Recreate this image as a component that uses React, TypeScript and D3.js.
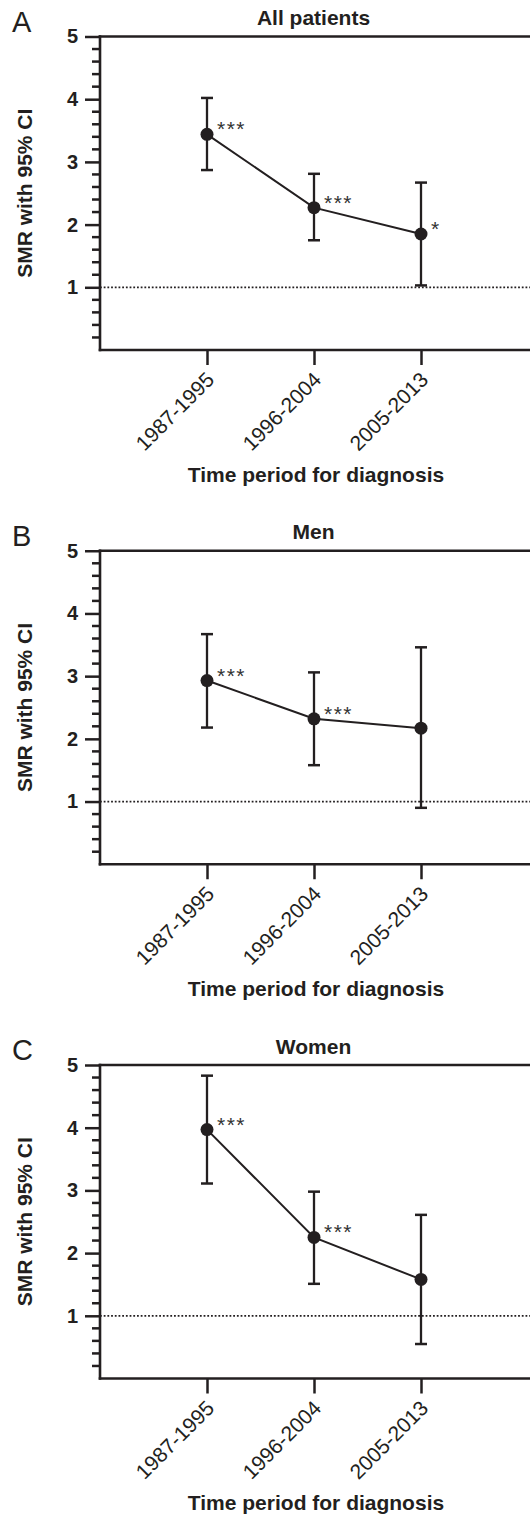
import React, { useEffect, useRef } from 'react';
import * as d3 from 'd3';

const categories = ['1987-1995', '1996-2004', '2005-2013'];
const panelLetters = ['A', 'B', 'C'];
const panelTitles = ['All patients', 'Men', 'Women'];

// SMR point estimates and 95% CI, one array per panel
const smrAll = [3.44, 2.27, 1.85];
const lowAll = [2.87, 1.75, 1.03];
const highAll = [4.02, 2.81, 2.67];
const starsAll = ['***', '***', '*'];

const smrMen = [2.93, 2.32, 2.17];
const lowMen = [2.18, 1.58, 0.9];
const highMen = [3.67, 3.06, 3.46];
const starsMen = ['***', '***', ''];

const smrWomen = [3.97, 2.25, 1.58];
const lowWomen = [3.11, 1.51, 0.55];
const highWomen = [4.83, 2.98, 2.61];
const starsWomen = ['***', '***', ''];

const yTicks = [1, 2, 3, 4, 5];
const yMax = 5;
const refLine = 1;

const panels = [
  { smr: smrAll, low: lowAll, high: highAll, stars: starsAll },
  { smr: smrMen, low: lowMen, high: highMen, stars: starsMen },
  { smr: smrWomen, low: lowWomen, high: highWomen, stars: starsWomen },
];

const W = 530;
const H = 1520;
const ink = '#231f20';
const font = 'Arial, "Liberation Sans", Helvetica, sans-serif';

const App = () => {
  const svgRef = useRef(null);

  useEffect(() => {
    const svg = d3.select(svgRef.current);
    svg.selectAll('*').remove();

    const left = 100;
    const plotH = 313.5;
    const firstTop = 36.5;
    const panelStep = 514.25;

    const x = d3.scalePoint()
      .domain(categories)
      .range([left, 528])
      .padding(1);

    const minorTicks = d3.range(1, yMax * 5)
      .filter(i => i % 5 !== 0)
      .map(i => i / 5);

    panels.forEach((p, pi) => {
      const top = firstTop + pi * panelStep;
      const bottom = top + plotH;
      const y = d3.scaleLinear().domain([0, yMax]).range([bottom, top]);
      const g = svg.append('g');

      // reference line at SMR = 1
      g.append('line')
        .attr('x1', left)
        .attr('x2', W + 2)
        .attr('y1', y(refLine))
        .attr('y2', y(refLine))
        .attr('stroke', ink)
        .attr('stroke-width', 1.8)
        .attr('stroke-dasharray', '1.8 1.9');

      // minor y ticks
      g.selectAll('line.minor')
        .data(minorTicks)
        .enter().append('line')
        .attr('class', 'minor')
        .attr('x1', left - 8)
        .attr('x2', left)
        .attr('y1', d => y(d))
        .attr('y2', d => y(d))
        .attr('stroke', ink)
        .attr('stroke-width', 2.5);

      // major y ticks + labels
      const yAxis = g.append('g')
        .attr('transform', `translate(${left},0)`)
        .call(d3.axisLeft(y).tickValues(yTicks).tickSize(15).tickSizeOuter(0).tickPadding(7).tickFormat(d3.format('d')));
      yAxis.select('.domain').remove();
      yAxis.selectAll('line').attr('stroke', ink).attr('stroke-width', 2.5);
      yAxis.selectAll('text')
        .attr('fill', ink)
        .attr('font-family', font)
        .attr('font-size', 20)
        .attr('font-weight', 'bold');

      // x ticks + rotated labels
      const xAxis = g.append('g')
        .attr('transform', `translate(0,${bottom})`)
        .call(d3.axisBottom(x).tickSize(15).tickSizeOuter(0));
      xAxis.select('.domain').remove();
      xAxis.selectAll('line').attr('stroke', ink).attr('stroke-width', 2.5);
      xAxis.selectAll('text')
        .attr('x', 0)
        .attr('y', 0)
        .attr('dy', 0)
        .attr('transform', 'translate(8,31) rotate(-45)')
        .attr('text-anchor', 'end')
        .attr('fill', ink)
        .attr('font-family', font)
        .attr('font-size', 21);

      // frame: left axis, bottom axis, top border (runs off the right edge)
      const frame = [
        [left, top, left, bottom],
        [left, bottom, W + 4, bottom],
        [left, top, W + 4, top],
      ];
      g.selectAll('line.frame')
        .data(frame)
        .enter().append('line')
        .attr('class', 'frame')
        .attr('x1', d => d[0])
        .attr('y1', d => d[1])
        .attr('x2', d => d[2])
        .attr('y2', d => d[3])
        .attr('stroke', ink)
        .attr('stroke-width', 2.6)
        .attr('stroke-linecap', 'square');

      const rows = categories.map((c, i) => ({
        c, v: p.smr[i], lo: p.low[i], hi: p.high[i], s: p.stars[i],
      }));

      // error bars
      const eb = g.selectAll('g.eb')
        .data(rows)
        .enter().append('g')
        .attr('class', 'eb');
      eb.append('line')
        .attr('x1', d => x(d.c))
        .attr('x2', d => x(d.c))
        .attr('y1', d => y(d.lo))
        .attr('y2', d => y(d.hi))
        .attr('stroke', ink)
        .attr('stroke-width', 2.3);
      ['lo', 'hi'].forEach(k => {
        eb.append('line')
          .attr('x1', d => x(d.c) - 6)
          .attr('x2', d => x(d.c) + 6)
          .attr('y1', d => y(d[k]))
          .attr('y2', d => y(d[k]))
          .attr('stroke', ink)
          .attr('stroke-width', 2.5);
      });

      // connecting line
      g.append('path')
        .datum(rows)
        .attr('fill', 'none')
        .attr('stroke', ink)
        .attr('stroke-width', 2)
        .attr('d', d3.line().x(d => x(d.c)).y(d => y(d.v)));

      g.selectAll('circle')
        .data(rows)
        .enter().append('circle')
        .attr('cx', d => x(d.c))
        .attr('cy', d => y(d.v))
        .attr('r', 6.5)
        .attr('fill', ink);

      // significance stars
      g.selectAll('text.star')
        .data(rows.filter(d => d.s))
        .enter().append('text')
        .attr('class', 'star')
        .attr('x', d => x(d.c) + 10)
        .attr('y', d => y(d.v) + 2)
        .attr('fill', '#333')
        .attr('font-family', font)
        .attr('font-size', 21)
        .attr('letter-spacing', 1.5)
        .text(d => d.s);

      // titles
      g.append('text')
        .attr('x', 12)
        .attr('y', top - 5)
        .attr('fill', ink)
        .attr('font-family', font)
        .attr('font-size', 29)
        .text(panelLetters[pi]);

      g.append('text')
        .attr('x', 313.5)
        .attr('y', top - 11.5)
        .attr('text-anchor', 'middle')
        .attr('fill', ink)
        .attr('font-family', font)
        .attr('font-size', 21)
        .attr('font-weight', 'bold')
        .text(panelTitles[pi]);

      g.append('text')
        .attr('transform', `translate(32,${top + plotH / 2}) rotate(-90)`)
        .attr('text-anchor', 'middle')
        .attr('fill', ink)
        .attr('font-family', font)
        .attr('font-size', 21)
        .attr('font-weight', 'bold')
        .text('SMR with 95% CI');

      g.append('text')
        .attr('x', 316)
        .attr('y', top + 445)
        .attr('text-anchor', 'middle')
        .attr('fill', ink)
        .attr('font-family', font)
        .attr('font-size', 21)
        .attr('font-weight', 'bold')
        .text('Time period for diagnosis');
    });
  }, []);

  return (
    <svg
      ref={svgRef}
      width={W}
      height={H}
      style={{ position: 'absolute', left: 0, top: 0, background: '#fff', display: 'block' }}
    ></svg>
  );
};

export default App;
